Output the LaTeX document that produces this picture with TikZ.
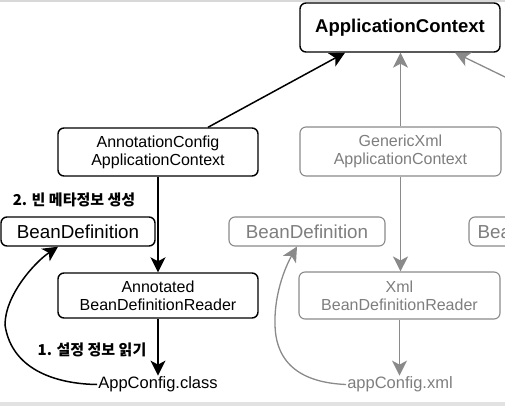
\documentclass[tikz,border=0pt]{standalone}
\usepackage{fontspec}
\setmainfont{Liberation Sans}
\newfontfamily\kr{Noto Sans CJK KR}
\usetikzlibrary{arrows.meta}
\definecolor{grayc}{HTML}{8A8A8A}
\definecolor{grayt}{HTML}{7E7E7E}
\definecolor{linec}{HTML}{D8D8D8}
\definecolor{bandc}{HTML}{E2E2E2}
\begin{document}
\begin{tikzpicture}[x=1pt,y=-1pt,
  box/.style={draw=black, line width=1.4pt, rounded corners=6pt, inner sep=0pt, align=center, fill=white},
  gbox/.style={box, draw=grayc, line width=1.1pt, text=grayt},
  small/.style={font=\fontsize{16}{18}\selectfont},
  big/.style={font=\fontsize{18.5}{20}\selectfont\bfseries},
  mid/.style={font=\fontsize{18.8}{20}\selectfont},
  krlab/.style={font=\kr\bfseries\fontsize{15}{18}\selectfont, inner sep=0pt},
  plain/.style={font=\fontsize{16.5}{18}\selectfont, inner sep=1pt},
  arr/.style={line width=1.5pt, -{Stealth[length=15pt,width=15pt,inset=4pt]}},
  garr/.style={arr, draw=grayc, line width=1.3pt},
]
\useasboundingbox (0,0) rectangle (505,406);
\clip (0,0) rectangle (505,406);
\fill[linec] (0,0.5) rectangle (505,2.5);
\fill[bandc] (0,402) rectangle (505,406);

% nodes
\node[box, big, minimum width=200pt, minimum height=49pt] (ac) at (400,27.5) {ApplicationContext};
\node[box, small, minimum width=200pt, minimum height=48pt] (acc) at (158,152) {AnnotationConfig\\ApplicationContext};
\node[gbox, small, minimum width=201pt, minimum height=49pt] (gxml) at (400.5,151.5) {GenericXml\\ApplicationContext};
\node[box, mid, minimum width=154pt, minimum height=29pt] (bd1) at (78,231.5) {BeanDefinition};
\node[gbox, mid, minimum width=156pt, minimum height=29pt] (bd2) at (307,231.5) {BeanDefinition};
\node[gbox, mid, minimum width=156pt, minimum height=29pt, text width=139pt, align=left] (bd3) at (547,231.5) {BeanDefinition};
\node[box, small, minimum width=200pt, minimum height=45pt] (rd1) at (158,295.5) {Annotated\\BeanDefinitionReader};
\node[gbox, small, minimum width=201pt, minimum height=47pt] (rd2) at (399.5,295.5) {Xml\\BeanDefinitionReader};
\node[plain] (appcfg) at (158,384.5) {AppConfig.class};
\node[plain, text=grayt] (appxml) at (400,384.5) {appConfig.xml};
\node[krlab] (lab2) at (74,200) {2. 빈 메타정보 생성};
\node[krlab] (lab1) at (92,350) {1. 설정 정보 읽기};

% connectors
\coordinate (offr) at (610,128);
\draw[arr] ([xshift=50pt]acc.north) -- ([xshift=-55pt]ac.south);
\draw[garr] (gxml.north) -- (gxml.north |- ac.south);
\draw[garr] (offr) -- ([xshift=55pt]ac.south);
\draw[arr] (acc.south) -- (rd1.north);
\draw[arr] (rd1.south) -- (appcfg.north);
\draw[garr] (gxml.south) -- (gxml.south |- rd2.north);
\draw[garr] (rd2.south) -- (rd2.south |- appxml.north);

\coordinate (bend1) at (5,325);
\coordinate (bend2) at (275,325);
\draw[arr] (appcfg.west) .. controls (60,384) and (12,372) .. (bend1)
  .. controls (5,295) and (35,262) .. ([xshift=-20pt]bd1.south);
\draw[garr] (appxml.west) .. controls (310,383) and (276,370) .. (bend2)
  .. controls (274,290) and (288,262) .. ([xshift=-10pt]bd2.south);
\end{tikzpicture}
\end{document}
